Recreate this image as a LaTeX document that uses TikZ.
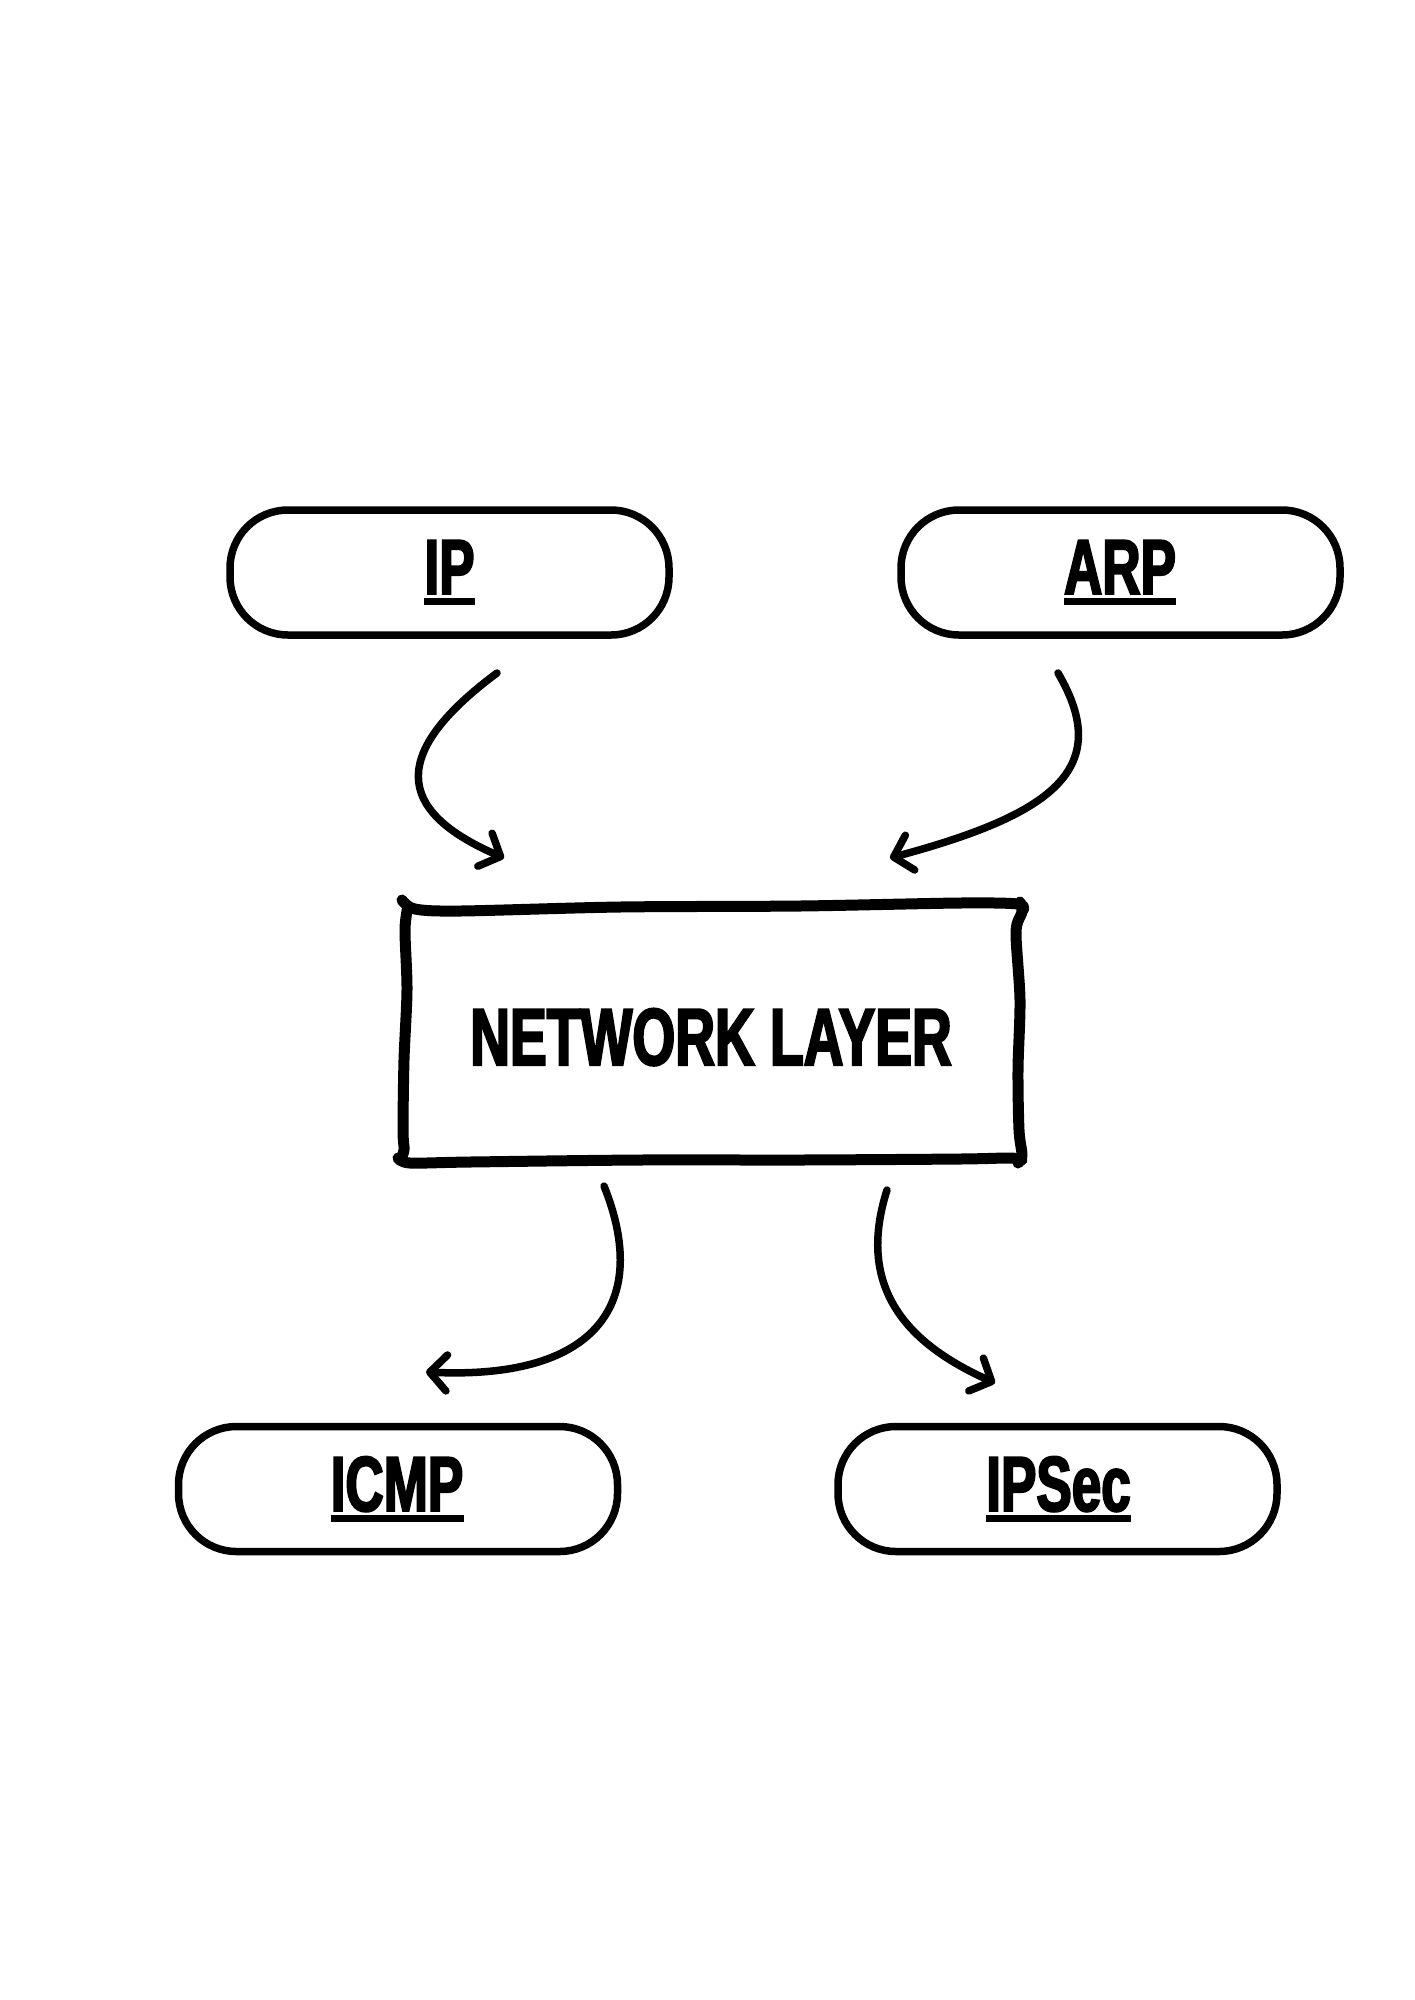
\documentclass[tikz,border=0pt]{standalone}
\usepackage{fontspec}
\newfontfamily\dispfont{Liberation Sans}[FakeStretch=0.68,FakeBold=2.5]
\usetikzlibrary{arrows.meta}
\begin{document}
\begin{tikzpicture}[x=1pt,y=-1pt,
  pill/.style={draw, line width=7.5pt, rounded corners=58pt, minimum width=439pt, minimum height=125pt, inner sep=0pt},
  lbl/.style={inner sep=0pt, anchor=base, font=\dispfont\bfseries\fontsize{78}{80}\selectfont},
  biglbl/.style={inner sep=0pt, anchor=base, font=\dispfont\bfseries\fontsize{81}{84}\selectfont},
  uline/.style={line width=7pt},
  conn/.style={line width=7.5pt, line cap=round, -{Straight Barb[length=17pt,width=36pt,round]}},
  sketch/.style={line width=11pt, line cap=round, line join=round}]
\fill[white] (0,0) rectangle (1414,2000);
\useasboundingbox (0,0) rectangle (1414,2000);

% boxes
\node[pill] (ipbox) at (449.5,572.5) {};
\node[pill] (arpbox) at (1120.5,572.5) {};
\node[pill] (icmpbox) at (398,1489) {};
\node[pill] (ipsecbox) at (1057.5,1489) {};

% labels
\node[lbl] (ip) at (449.5,594) {IP};
\node[lbl] (arp) at (1120,594) {ARP};
\node[lbl] (icmp) at (397,1511) {ICMP};
\node[lbl] (ipsec) at (1058.5,1511) {IPSec};
\foreach \n in {ip,arp,icmp,ipsec}
  \draw[uline] ([yshift=-7pt]\n.base west) -- ([yshift=-7pt]\n.base east);

% network layer
\node[biglbl] (net) at (711,1065) {NETWORK LAYER};
\draw[sketch] plot[smooth] coordinates {(402,900) (415,909) (460,911) (620,907) (800,906) (960,903) (1018,904) (1023,910)};
\draw[sketch] plot[smooth] coordinates {(408,906) (405,930) (407,990) (404,1060) (403,1130) (404,1150) (400,1160)};
\draw[sketch] plot[smooth] coordinates {(398,1158) (410,1163) (470,1162) (640,1160) (800,1160) (960,1159) (1010,1158) (1022,1160)};
\draw[sketch] plot[smooth] coordinates {(1020,902) (1022,912) (1016,932) (1020,1000) (1018,1070) (1019,1130) (1022,1155) (1018,1163)};

% connector ends
\coordinate (a1s) at (497,673);
\coordinate (a1e) at (504,858);
\coordinate (a2s) at (1058,673);
\coordinate (a2e) at (890,858);
\coordinate (a3s) at (604,1186);
\coordinate (a3e) at (426,1372);
\coordinate (a4s) at (887,1190);
\coordinate (a4e) at (995,1383);

\draw[conn] (a1s) .. controls (380,760) and (405,815) .. (a1e);
\draw[conn] (a2s) .. controls (1115,770) and (1050,815) .. (a2e);
\draw[conn] (a3s) .. controls (650,1300) and (600,1380) .. (a3e);
\draw[conn] (a4s) .. controls (855,1290) and (910,1345) .. (a4e);
\end{tikzpicture}
\end{document}
